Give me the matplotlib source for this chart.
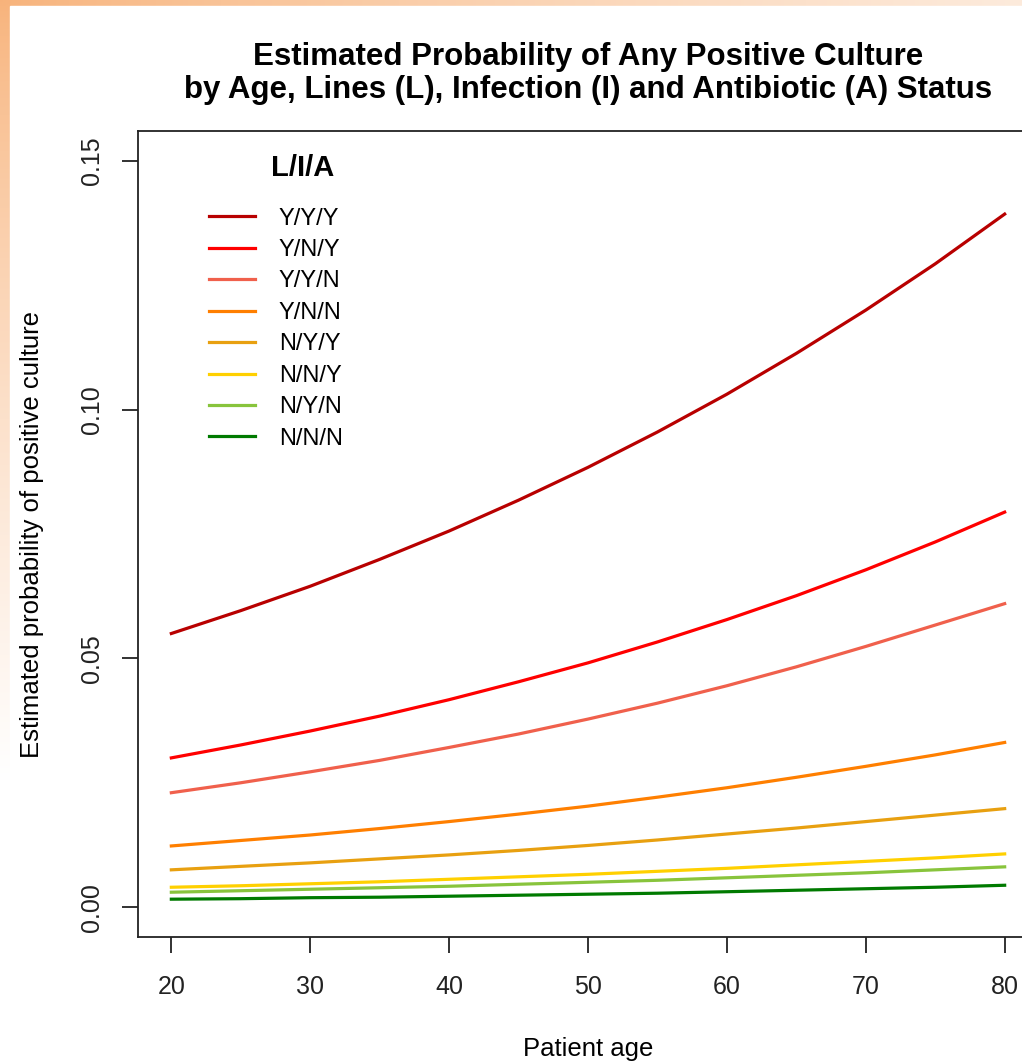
import matplotlib.pyplot as plt
import numpy as np
from matplotlib.patches import Rectangle

plt.rcParams['font.family'] = ['Liberation Sans', 'DejaVu Sans']

ages = [20, 25, 30, 35, 40, 45, 50, 55, 60, 65, 70, 75, 80]

# estimated probabilities (L/I/A groups)
p_yyy = [0.0550, 0.0596, 0.0645, 0.0699, 0.0756, 0.0818, 0.0884, 0.0955, 0.1031, 0.1113, 0.1200, 0.1293, 0.1393]
p_yny = [0.0300, 0.0326, 0.0354, 0.0384, 0.0417, 0.0453, 0.0491, 0.0533, 0.0578, 0.0626, 0.0678, 0.0734, 0.0794]
p_yyn = [0.0230, 0.0250, 0.0272, 0.0295, 0.0321, 0.0348, 0.0378, 0.0410, 0.0445, 0.0483, 0.0524, 0.0567, 0.0610]
p_ynn = [0.0123, 0.0134, 0.0145, 0.0158, 0.0172, 0.0187, 0.0203, 0.0221, 0.0240, 0.0261, 0.0283, 0.0306, 0.0331]
p_nyy = [0.0075, 0.0082, 0.0089, 0.0097, 0.0105, 0.0114, 0.0124, 0.0135, 0.0147, 0.0159, 0.0172, 0.0185, 0.0198]
p_nny = [0.0040, 0.0043, 0.0047, 0.0051, 0.0056, 0.0061, 0.0066, 0.0072, 0.0078, 0.0085, 0.0092, 0.0099, 0.0107]
p_nyn = [0.0030, 0.0033, 0.0036, 0.0039, 0.0042, 0.0046, 0.0050, 0.0054, 0.0059, 0.0064, 0.0069, 0.0075, 0.0081]
p_nnn = [0.0016, 0.0017, 0.0019, 0.0020, 0.0022, 0.0024, 0.0026, 0.0028, 0.0031, 0.0034, 0.0037, 0.0040, 0.0044]

labels = ['Y/Y/Y', 'Y/N/Y', 'Y/Y/N', 'Y/N/N', 'N/Y/Y', 'N/N/Y', 'N/Y/N', 'N/N/N']
series = [p_yyy, p_yny, p_yyn, p_ynn, p_nyy, p_nny, p_nyn, p_nnn]
colors = ['#B80000', '#FF0000', '#F0604C', '#FF7F00', '#E8A010', '#FFD000', '#88C43C', '#007A00']

W, H = 1022, 1062
fig = plt.figure(figsize=(W / 100, H / 100), dpi=100)

# slide-style orange frame in the top-left corner
bg = fig.add_axes([0, 0, 1, 1], zorder=-10)
yy, xx = np.mgrid[0:H, 0:W]
d = np.clip(np.sqrt((xx / 1500.0) ** 2 + (yy / 780.0) ** 2), 0, 1) ** 0.8
c0 = np.array([0.97, 0.70, 0.48])
img = c0[None, None, :] * (1 - d[..., None]) + np.ones(3)[None, None, :] * d[..., None]
bg.imshow(img, extent=[0, W, H, 0], aspect='auto')
bg.add_patch(Rectangle((10, 6), W, H, color='white'))
bg.set_xlim(0, W)
bg.set_ylim(H, 0)
bg.axis('off')

ax = fig.add_axes([138 / W, (H - 937) / H, 900 / W, 806 / H])
for vals, lab, col in zip(series, labels, colors):
    ax.plot(ages, vals, color=col, lw=2.3, label=lab)

ax.set_xlim(17.6, 82.4)
ax.set_ylim(-0.006, 0.156)
ax.set_xticks([20, 30, 40, 50, 60, 70, 80])
ax.set_yticks([0.0, 0.05, 0.10, 0.15])
ax.set_yticklabels(['0.00', '0.05', '0.10', '0.15'], rotation=90, va='center')
ax.tick_params(labelsize=18, length=11.5, width=1.3, pad=13, colors='#222222')
ax.tick_params(axis='x', pad=15.5)
for s in ax.spines.values():
    s.set_linewidth(1.3)
    s.set_color('#222222')

ax.set_xlabel('Patient age', fontsize=18.5, labelpad=28)
ax.set_ylabel('Estimated probability of positive culture', fontsize=18.5, labelpad=26)
ax.set_title('Estimated Probability of Any Positive Culture\n'
             'by Age, Lines (L), Infection (I) and Antibiotic (A) Status',
             fontsize=22.5, fontweight='bold', pad=24, linespacing=1.1)

ax.text(0.1833, 0.954, 'L/I/A', transform=ax.transAxes, ha='center', va='center',
        fontsize=21, fontweight='bold')
ax.legend(loc='upper left', bbox_to_anchor=(0.0789, 0.905), borderaxespad=0, borderpad=0,
          frameon=False, fontsize=17, handlelength=1.95, handletextpad=1.0,
          labelspacing=0.4)

fig.savefig('out.png', dpi=100)
